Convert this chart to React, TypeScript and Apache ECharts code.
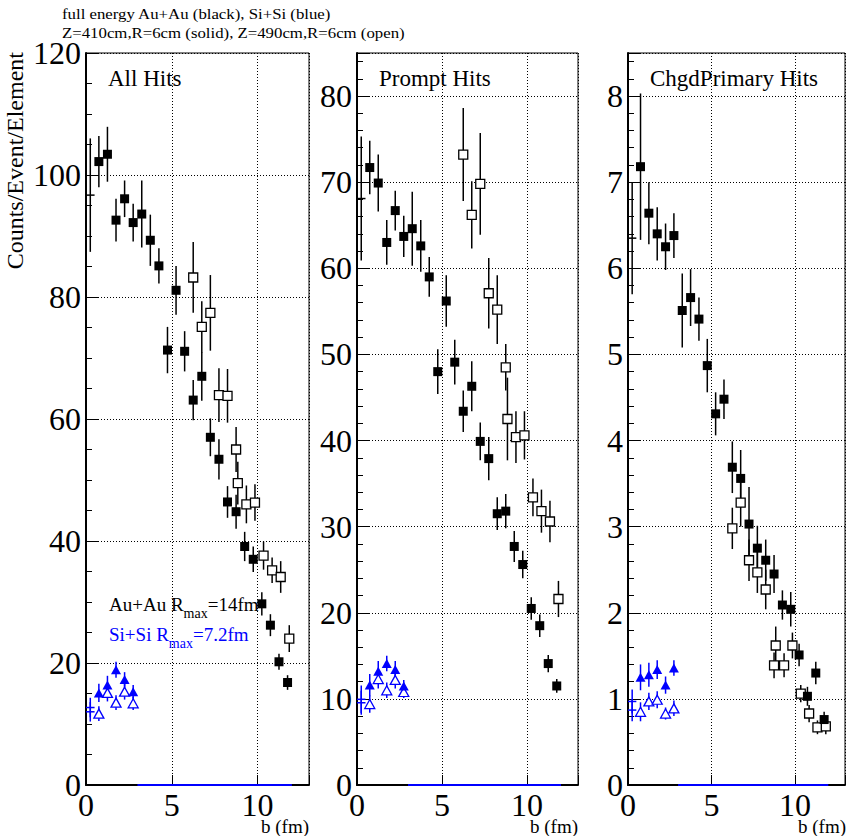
import React, { useEffect, useRef } from "react";
import * as echarts from "echarts";

const FONT = "'Liberation Serif', 'Times New Roman', serif";
const BLUE = "#0000ff";

// impact parameter bin centres (fm)
const solidB = [0.75, 1.25, 1.75, 2.25, 2.75, 3.25, 3.75, 4.25, 4.75, 5.25, 5.75, 6.25, 6.75, 7.25, 7.75, 8.25, 8.75, 9.25, 9.75, 10.25, 10.75, 11.25, 11.75];
const openB = [6.25, 6.75, 7.25, 7.75, 8.25, 8.75, 8.85, 9.35, 9.85, 10.35, 10.85, 11.35, 11.85];
const siB = [0.75, 1.25, 1.75, 2.25, 2.75];
const firstBinB = 0.25;
const binHalfWidth = 0.25;
const siEmptyRange = [3, 12];

// All Hits
const allSolid = [102.2, 103.4, 92.6, 96.1, 92.2, 93.6, 89.3, 85.1, 71.3, 81.1, 71.1, 63.1, 67.0, 57.0, 53.4, 46.4, 44.8, 39.1, 37.0, 29.7, 26.2, 20.2, 16.8];
const allSolidErr = [4.2, 4.5, 3.5, 3.0, 3.1, 5.5, 4.2, 2.9, 3.8, 4.0, 3.3, 3.3, 4.0, 3.1, 3.3, 2.6, 2.8, 2.4, 2.1, 1.9, 1.8, 1.3, 1.2];
const allOpen = [83.2, 75.1, 77.4, 63.9, 63.8, 55.0, 49.5, 46.0, 46.3, 37.6, 35.2, 34.1, 24.0];
const allOpenErr = [5.8, 4.2, 6.2, 4.4, 4.4, 3.7, 3.5, 3.1, 3.0, 2.3, 2.1, 2.6, 2.2];
const allSiSolid = [15.1, 16.4, 18.9, 17.3, 15.3];
const allSiSolidErr = [1.5, 1.5, 1.3, 1.2, 1.1];
const allSiOpen = [11.7, 15.1, 13.5, 15.3, 13.4];
const allSiOpenErr = [1.2, 1.4, 1.2, 1.3, 1.1];
// first bin: Au+Au, Si+Si solid, Si+Si open
const allFirst = [96.7, 12.7, 12.0];
const allFirstErr = [9.3, 1.6, 1.6];

// Prompt Hits
const promptSolid = [71.7, 69.9, 63.0, 66.7, 63.7, 64.6, 62.6, 59.0, 48.0, 56.2, 49.1, 43.4, 46.3, 39.9, 37.9, 31.5, 31.8, 27.7, 25.6, 20.5, 18.5, 14.1, 11.5];
const promptSolidErr = [3.1, 3.3, 2.6, 2.3, 2.4, 4.3, 3.0, 2.3, 2.6, 3.0, 2.6, 2.4, 2.9, 2.2, 2.5, 1.9, 2.0, 1.8, 1.6, 1.3, 1.3, 1.0, 0.8];
const promptOpen = [73.2, 66.2, 69.8, 57.1, 55.2, 48.5, 42.5, 40.4, 40.6, 33.4, 31.8, 30.6, 21.6];
const promptOpenErr = [5.4, 3.9, 5.9, 4.1, 4.0, 2.7, 4.8, 3.0, 2.8, 2.2, 2.5, 2.4, 2.1];
const promptSiSolid = [11.6, 13.2, 14.1, 13.4, 11.5];
const promptSiSolidErr = [1.3, 1.2, 0.9, 1.0, 0.7];
const promptSiOpen = [9.4, 12.3, 11.0, 12.2, 10.8];
const promptSiOpenErr = [1.0, 1.1, 0.9, 1.0, 0.7];
const promptFirst = [68.1, 9.95, 9.55];
const promptFirstErr = [7.2, 1.6, 1.4];

// ChgdPrimary Hits
const primSolid = [7.18, 6.64, 6.40, 6.25, 6.38, 5.51, 5.66, 5.41, 4.87, 4.31, 4.48, 3.69, 3.56, 3.03, 2.75, 2.61, 2.45, 2.09, 2.04, 1.51, 1.03, 1.30, 0.76];
const primSolidErr = [0.85, 0.36, 0.31, 0.27, 0.26, 0.43, 0.33, 0.25, 0.31, 0.25, 0.23, 0.30, 0.33, 0.43, 0.26, 0.24, 0.22, 0.17, 0.20, 0.13, 0.11, 0.13, 0.09];
const primOpen = [2.98, 3.28, 2.61, 2.47, 2.27, 1.39, 1.62, 1.39, 1.62, 1.06, 0.83, 0.67, 0.68];
const primOpenErr = [0.24, 0.28, 0.24, 0.24, 0.23, 0.15, 0.22, 0.14, 0.15, 0.10, 0.10, 0.08, 0.09];
const primSiSolid = [1.25, 1.28, 1.34, 1.16, 1.36];
const primSiSolidErr = [0.15, 0.14, 0.11, 0.10, 0.09];
const primSiOpen = [0.85, 0.97, 0.99, 0.83, 0.89];
const primSiOpenErr = [0.11, 0.10, 0.10, 0.07, 0.09];
const primFirst = [6.35, 0.97, 0.87];
const primFirstErr = [0.65, 0.14, 0.13];

// axis settings per panel
const panelTitles = ["All Hits", "Prompt Hits", "ChgdPrimary Hits"];
const yMax = [120, 85, 8.5];
const yMajor = [20, 10, 1];
const yMinor = [5, 2, 0.2];
const xMax = 13;
const xMajor = 5;

const panels = [
  { solid: allSolid, solidErr: allSolidErr, open: allOpen, openErr: allOpenErr, siSolid: allSiSolid, siSolidErr: allSiSolidErr, siOpen: allSiOpen, siOpenErr: allSiOpenErr, first: allFirst, firstErr: allFirstErr },
  { solid: promptSolid, solidErr: promptSolidErr, open: promptOpen, openErr: promptOpenErr, siSolid: promptSiSolid, siSolidErr: promptSiSolidErr, siOpen: promptSiOpen, siOpenErr: promptSiOpenErr, first: promptFirst, firstErr: promptFirstErr },
  { solid: primSolid, solidErr: primSolidErr, open: primOpen, openErr: primOpenErr, siSolid: primSiSolid, siSolidErr: primSiSolidErr, siOpen: primSiOpen, siOpenErr: primSiOpenErr, first: primFirst, firstErr: primFirstErr },
];

const gridBoxes = [
  { left: 86, top: 53, width: 223, height: 732 },
  { left: 357, top: 53, width: 221, height: 732 },
  { left: 628, top: 53, width: 222, height: 732 },
];

function measure(text: string, font: string): number {
  const ctx = document.createElement("canvas").getContext("2d");
  if (!ctx) return text.length * 8;
  ctx.font = font;
  return ctx.measureText(text).width;
}

function errorBars(color: string) {
  return (params: any, api: any) => {
    const x = api.value(0);
    const y = api.value(1);
    const e = api.value(2);
    const ex = api.value(3);
    const style = { stroke: color, lineWidth: 1.5 };
    const lo = api.coord([x, y - e]);
    const hi = api.coord([x, y + e]);
    const children: any[] = [
      { type: "line", shape: { x1: lo[0], y1: lo[1], x2: hi[0], y2: hi[1] }, style },
    ];
    if (ex > 0) {
      const l = api.coord([x - ex, y]);
      const r = api.coord([x + ex, y]);
      children.push({ type: "line", shape: { x1: l[0], y1: l[1], x2: r[0], y2: r[1] }, style });
    }
    return { type: "group", children };
  };
}

function rows(xs: number[], ys: number[], errs: number[], xerr = 0) {
  return xs.map((x, i) => [x, ys[i], errs[i], xerr]);
}

export default function App() {
  const ref = useRef<HTMLDivElement>(null);

  useEffect(() => {
    if (!ref.current) return;
    const chart = echarts.init(ref.current, undefined, { renderer: "svg" });

    const grids: any[] = [];
    const xAxes: any[] = [];
    const yAxes: any[] = [];
    const series: any[] = [];
    const graphics: any[] = [];

    panels.forEach((p, i) => {
      const box = gridBoxes[i];
      grids.push({ ...box, show: true, borderColor: "#000", borderWidth: 1, backgroundColor: "transparent" });
      xAxes.push({
        gridIndex: i,
        type: "value",
        min: 0,
        max: xMax,
        interval: xMajor,
        axisLine: { show: true, onZero: false, lineStyle: { color: "#000", width: 2 } },
        axisTick: { show: true, inside: true, length: 10, lineStyle: { color: "#000", width: 1 } },
        axisLabel: {
          margin: 4,
          fontSize: 32,
          fontFamily: FONT,
          color: "#000",
          formatter: (v: number) => (v % xMajor === 0 && v < xMax ? String(v) : ""),
        },
        splitLine: { show: true, lineStyle: { color: "#000", width: 1, type: [1, 2] } },
      });
      // major ticks, labels and grid lines
      yAxes.push({
        gridIndex: i,
        type: "value",
        position: "left",
        min: 0,
        max: yMax[i],
        interval: yMajor[i],
        axisLine: { show: true, onZero: false, lineStyle: { color: "#000", width: 2 } },
        axisTick: { show: true, inside: true, length: 12, lineStyle: { color: "#000", width: 1 } },
        axisLabel: {
          margin: 5,
          fontSize: 32,
          fontFamily: FONT,
          color: "#000",
          formatter: (v: number) => {
            const k = v / yMajor[i];
            return Math.abs(k - Math.round(k)) < 1e-6 ? String(Math.round(v * 10) / 10) : "";
          },
        },
        splitLine: { show: true, lineStyle: { color: "#000", width: 1, type: [1, 2] } },
      });
      // minor ticks
      yAxes.push({
        gridIndex: i,
        type: "value",
        position: "left",
        offset: 0,
        min: 0,
        max: yMax[i],
        interval: yMinor[i],
        axisLine: { show: false },
        axisTick: { show: true, inside: true, length: 6, lineStyle: { color: "#000", width: 1 } },
        axisLabel: { show: false },
        splitLine: { show: false },
      });

      const xi = i;
      const yi = 2 * i;
      const firstRows = [
        [firstBinB, p.first[0], p.firstErr[0], binHalfWidth],
      ];
      const firstSi = [
        [firstBinB, p.first[1], p.firstErr[1], binHalfWidth],
        [firstBinB, p.first[2], p.firstErr[2], binHalfWidth],
      ];

      series.push(
        {
          type: "custom", xAxisIndex: xi, yAxisIndex: yi, clip: true, silent: true, z: 3,
          renderItem: errorBars("#000"), encode: { x: 0, y: 1 },
          data: [...rows(solidB, p.solid, p.solidErr), ...rows(openB, p.open, p.openErr), ...firstRows],
        },
        {
          type: "custom", xAxisIndex: xi, yAxisIndex: yi, clip: true, silent: true, z: 3,
          renderItem: errorBars(BLUE), encode: { x: 0, y: 1 },
          data: [...rows(siB, p.siSolid, p.siSolidErr), ...rows(siB, p.siOpen, p.siOpenErr), ...firstSi],
        },
        {
          type: "line", xAxisIndex: xi, yAxisIndex: yi, silent: true, clip: false, z: 6,
          symbol: "none", lineStyle: { color: BLUE, width: 2 },
          data: [[siEmptyRange[0], 0], [siEmptyRange[1], 0]],
        },
        {
          type: "scatter", xAxisIndex: xi, yAxisIndex: yi, silent: true, z: 5,
          symbol: "rect", symbolSize: 9,
          itemStyle: { color: "#fff", borderColor: "#000", borderWidth: 1.3, opacity: 1 },
          data: openB.map((b, k) => [b, p.open[k]]),
        },
        {
          type: "scatter", xAxisIndex: xi, yAxisIndex: yi, silent: true, z: 5,
          symbol: "rect", symbolSize: 9,
          itemStyle: { color: "#000", opacity: 1 },
          data: solidB.map((b, k) => [b, p.solid[k]]),
        },
        {
          type: "scatter", xAxisIndex: xi, yAxisIndex: yi, silent: true, z: 5,
          symbol: "triangle", symbolSize: [10, 9],
          itemStyle: { color: "#fff", borderColor: BLUE, borderWidth: 1.3, opacity: 1 },
          data: siB.map((b, k) => [b, p.siOpen[k]]),
        },
        {
          type: "scatter", xAxisIndex: xi, yAxisIndex: yi, silent: true, z: 5,
          symbol: "triangle", symbolSize: [10, 9],
          itemStyle: { color: BLUE, opacity: 1 },
          data: siB.map((b, k) => [b, p.siSolid[k]]),
        }
      );

      graphics.push({
        type: "text",
        z: 1,
        style: {
          x: box.left + 22, y: 90, text: panelTitles[i], fill: "#000",
          font: `23px ${FONT}`, textAlign: "left", textVerticalAlign: "bottom",
        },
      });
      graphics.push({
        type: "text",
        style: {
          x: Math.min(box.left + box.width, 846), y: 836, text: "b (fm)", fill: "#000",
          font: `19px ${FONT}`, textAlign: "right", textVerticalAlign: "bottom",
        },
      });
    });

    // legend lines with subscripts
    const legend = [
      { head: "Au+Au R", tail: "=14fm", color: "#000", base: 614 },
      { head: "Si+Si R", tail: "=7.2fm", color: BLUE, base: 644 },
    ];
    const mainFont = `19px ${FONT}`;
    const subFont = `14px ${FONT}`;
    legend.forEach((l) => {
      const x0 = 109;
      const w1 = measure(l.head, mainFont);
      const w2 = measure("max", subFont);
      graphics.push(
        { type: "text", z: 1, style: { x: x0, y: l.base, text: l.head, fill: l.color, font: mainFont, textVerticalAlign: "bottom" } },
        { type: "text", z: 1, style: { x: x0 + w1, y: l.base + 6, text: "max", fill: l.color, font: subFont, textVerticalAlign: "bottom" } },
        { type: "text", z: 1, style: { x: x0 + w1 + w2, y: l.base, text: l.tail, fill: l.color, font: mainFont, textVerticalAlign: "bottom" } }
      );
    });

    graphics.push(
      {
        type: "text",
        x: 15,
        y: 52,
        rotation: Math.PI / 2,
        style: {
          text: "Counts/Event/Element", fill: "#000", font: `24px ${FONT}`,
          textAlign: "right", textVerticalAlign: "middle",
        },
      },
      {
        type: "text",
        x: 62,
        y: 21,
        scaleX: 1.12,
        style: {
          x: 0, y: 0, text: "full energy Au+Au (black), Si+Si (blue)", fill: "#000",
          font: `15px ${FONT}`, textVerticalAlign: "bottom",
        },
      },
      {
        type: "text",
        x: 62,
        y: 40,
        scaleX: 1.12,
        style: {
          x: 0, y: 0, text: "Z=410cm,R=6cm (solid), Z=490cm,R=6cm (open)", fill: "#000",
          font: `15px ${FONT}`, textVerticalAlign: "bottom",
        },
      }
    );

    chart.setOption({
      animation: false,
      backgroundColor: "#fff",
      grid: grids,
      xAxis: xAxes,
      yAxis: yAxes,
      series,
      graphic: graphics,
    });

    return () => chart.dispose();
  }, []);

  return <div ref={ref} style={{ position: "absolute", left: 0, top: 0, width: 848, height: 836 }} />;
}
